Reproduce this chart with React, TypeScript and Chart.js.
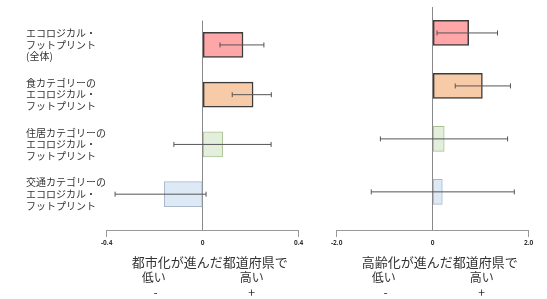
import React, { useEffect, useRef } from "react";
import { Chart, registerables } from "chart.js";

Chart.register(...registerables);

const categories: string[][] = [
  ["エコロジカル・", "フットプリント", "(全体)"],
  ["食カテゴリーの", "エコロジカル・", "フットプリント"],
  ["住居カテゴリーの", "エコロジカル・", "フットプリント"],
  ["交通カテゴリーの", "エコロジカル・", "フットプリント"],
];

const urbanValues = [0.168, 0.21, 0.083, -0.16];
const urbanLow = [0.072, 0.123, -0.12, -0.365];
const urbanHigh = [0.255, 0.286, 0.285, 0.014];
const urbanTicks = [-0.4, 0, 0.4];

const agingValues = [0.75, 1.035, 0.24, 0.2];
const agingLow = [0.09, 0.47, -1.09, -1.28];
const agingHigh = [1.35, 1.62, 1.56, 1.7];
const agingTicks = [-2, 0, 2];

const urbanTitle = "都市化が進んだ都道府県で";
const agingTitle = "高齢化が進んだ都道府県で";
const lowLabel = "低い";
const highLabel = "高い";

const fillColors = ["#FFA6A9", "#F8CBA8", "#E3EFDA", "#DEE9F6"];
const borderColors = ["#3c3c3c", "#3c3c3c", "#A9C293", "#A9B7CB"];
const borderWidths = [1.5, 1.5, 1, 1];

const JP = "'Noto Sans CJK JP', 'Noto Sans', sans-serif";

interface PanelCfg {
  values: number[];
  low: number[];
  high: number[];
  ticks: number[];
  title: string;
  showLabels: boolean;
  padding: { left: number; right: number; top: number; bottom: number };
  yAxisWidth: number;
}

function makeChart(canvas: HTMLCanvasElement, cfg: PanelCfg) {
  const min = cfg.ticks[0];
  const max = cfg.ticks[cfg.ticks.length - 1];
  const errorPlugin = {
    id: "errbars",
    afterDatasetsDraw(chart: any) {
      const ctx = chart.ctx;
      const xs = chart.scales.x;
      const ys = chart.scales.y;
      ctx.save();
      ctx.strokeStyle = "#555";
      ctx.lineWidth = 1;
      cfg.values.forEach((_, i) => {
        const y = ys.getPixelForValue(i);
        const x1 = xs.getPixelForValue(cfg.low[i]);
        const x2 = xs.getPixelForValue(cfg.high[i]);
        ctx.beginPath();
        ctx.moveTo(x1, y);
        ctx.lineTo(x2, y);
        ctx.moveTo(x1, y - 2.5);
        ctx.lineTo(x1, y + 2.5);
        ctx.moveTo(x2, y - 2.5);
        ctx.lineTo(x2, y + 2.5);
        ctx.stroke();
      });
      ctx.restore();
    },
  };
  const titlePlugin = {
    id: "titles",
    afterDraw(chart: any) {
      const ctx = chart.ctx;
      const xs = chart.scales.x;
      const area = chart.chartArea;
      const cx = (area.left + area.right) / 2 + 7;
      ctx.save();
      ctx.fillStyle = "#333";
      ctx.textAlign = "center";
      ctx.textBaseline = "middle";
      ctx.font = `13px ${JP}`;
      ctx.fillText(cfg.title, cx, 262);
      ctx.font = `12px ${JP}`;
      const lx = xs.getPixelForValue(min / 2) - 1;
      const hx = xs.getPixelForValue(max / 2) + 1;
      ctx.fillText(lowLabel, lx, 277);
      ctx.fillText(highLabel, hx, 277);
      ctx.fillText("-", lx + 2, 292);
      ctx.fillText("+", hx, 292);
      ctx.restore();
    },
  };
  return new Chart(canvas, {
    type: "bar",
    data: {
      datasets: [
        {
          data: cfg.values.map((v, i) => ({ x: v, y: i })),
          backgroundColor: fillColors,
          borderColor: borderColors,
          borderWidth: borderWidths,
          borderSkipped: false,
          barThickness: 25,
        } as any,
      ],
    },
    options: {
      indexAxis: "y",
      animation: false,
      responsive: false,
      layout: { padding: cfg.padding },
      plugins: { legend: { display: false }, tooltip: { enabled: false } },
      scales: {
        x: {
          type: "linear",
          min,
          max,
          offset: false,
          afterBuildTicks: (s: any) => {
            s.ticks = cfg.ticks.map((v) => ({ value: v }));
          },
          afterFit: (s: any) => {
            s.height = 20;
          },
          border: { display: true, color: "#999", width: 1 },
          grid: {
            offset: false,
            drawOnChartArea: true,
            drawTicks: true,
            tickLength: 7,
            color: (c: any) => (c.tick && c.tick.value === 0 ? "#888" : "rgba(0,0,0,0)"),
            tickColor: (c: any) => (c.tick && c.tick.value === 0 ? "rgba(0,0,0,0)" : "#999"),
          },
          ticks: {
            padding: 2,
            color: "#333",
            font: { size: 6.5, family: "'Noto Sans', sans-serif", weight: "bold" },
            callback: (v: any) => (Number(v) === 0 ? "0" : Number(v).toFixed(1)),
          },
        },
        y: {
          type: "linear",
          reverse: true,
          min: -0.49,
          max: 3.72,
          offset: false,
          display: cfg.showLabels,
          afterBuildTicks: (s: any) => {
            s.ticks = categories.map((_, i) => ({ value: i }));
          },
          afterFit: (s: any) => {
            s.width = cfg.yAxisWidth;
          },
          border: { display: false },
          grid: { display: false, offset: false },
          ticks: {
            crossAlign: "far",
            color: "#333",
            font: { size: 10, family: JP, lineHeight: 1.17 },
            callback: (v: any) => categories[Number(v)] ?? "",
          },
        },
      },
    } as any,
    plugins: [errorPlugin, titlePlugin],
  });
}

export default function App() {
  const leftRef = useRef<HTMLCanvasElement>(null);
  const rightRef = useRef<HTMLCanvasElement>(null);
  useEffect(() => {
    const a = makeChart(leftRef.current!, {
      values: urbanValues,
      low: urbanLow,
      high: urbanHigh,
      ticks: urbanTicks,
      title: urbanTitle,
      showLabels: true,
      padding: { left: 26, right: 21.3, top: 7, bottom: 49 },
      yAxisWidth: 80.7,
    });
    const b = makeChart(rightRef.current!, {
      values: agingValues,
      low: agingLow,
      high: agingHigh,
      ticks: agingTicks,
      title: agingTitle,
      showLabels: false,
      padding: { left: 16.7, right: 18.3, top: 7, bottom: 49 },
      yAxisWidth: 0,
    });
    return () => {
      a.destroy();
      b.destroy();
    };
  }, []);
  return (
    <div style={{ position: "absolute", left: 0, top: 0, width: 547, height: 299, background: "#fff" }}>
      <canvas ref={leftRef} width={320} height={299} style={{ position: "absolute", left: 0, top: 0 }} />
      <canvas ref={rightRef} width={227} height={299} style={{ position: "absolute", left: 320, top: 0 }} />
    </div>
  );
}
